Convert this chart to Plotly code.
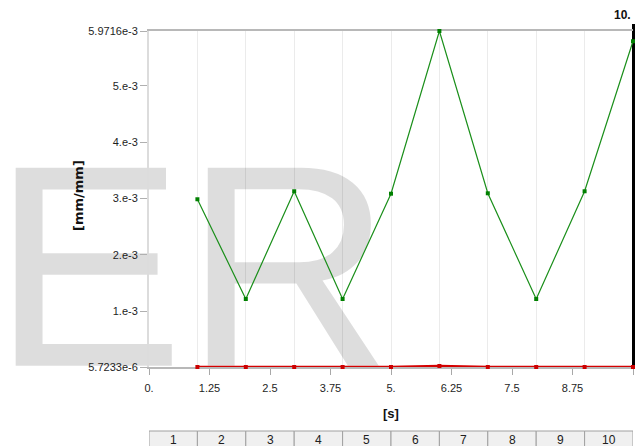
import plotly.graph_objects as go

# Result steps / time points
steps = [1, 2, 3, 4, 5, 6, 7, 8, 9, 10]
time_s = [1.0, 2.0, 3.0, 4.0, 5.0, 6.0, 7.0, 8.0, 9.0, 10.0]

# Strain results [mm/mm]
strain_max = [2.984e-3, 1.213e-3, 3.126e-3, 1.213e-3, 3.083e-3,
              5.9716e-3, 3.090e-3, 1.213e-3, 3.126e-3, 5.790e-3]
strain_min = [5.9e-6, 6.1e-6, 6.0e-6, 6.1e-6, 6.3e-6,
              2.4e-5, 6.3e-6, 6.1e-6, 6.0e-6, 5.7233e-6]

# Axis ticks
x_tickvals = [0, 1.25, 2.5, 3.75, 5, 6.25, 7.5, 8.75, 10]
x_ticktext = ["0.", "1.25", "2.5", "3.75", "5.", "6.25", "7.5", "8.75", "10."]
y_tickvals = [5.7233e-6, 1e-3, 2e-3, 3e-3, 4e-3, 5e-3, 5.9716e-3]
y_ticktext = ["5.7233e-6", "1.e-3", "2.e-3", "3.e-3", "4.e-3", "5.e-3", "5.9716e-3"]

current_time = 10.0
watermark = "ER"

x_lo, x_hi = 0.0, 10.0
y_lo, y_hi = min(strain_min), max(strain_max)
TICK_FONT = dict(family="Liberation Sans", size=11, color="#1e1e1e")

PLOT_W = 636 - 149 - 3

fig = go.Figure()

# Background watermark, drawn first so the curves sit on top of it
fig.add_trace(go.Scatter(
    x=[0.89], y=[1.305e-3], mode="text", text=[watermark],
    textposition="middle center", cliponaxis=False, hoverinfo="skip",
    textfont=dict(family="Liberation Sans", size=288, color="rgba(0,0,0,0.135)"),
    showlegend=False,
))

fig.add_trace(go.Scatter(
    x=time_s, y=strain_max, mode="lines+markers", cliponaxis=False,
    line=dict(color="#1a8f1a", width=1.2),
    marker=dict(symbol="square", size=4, color="#008000"),
    showlegend=False,
))
fig.add_trace(go.Scatter(
    x=time_s, y=strain_min, mode="lines+markers", cliponaxis=False,
    line=dict(color="#d40000", width=2.4),
    marker=dict(symbol="square", size=4, color="#cc0000"),
    showlegend=False,
))

# Current-time marker (paper-referenced so the full stroke width is kept)
t_frac = (current_time - x_lo) / (x_hi - x_lo) + 0.5 / PLOT_W
fig.add_shape(type="line", xref="paper", yref="paper",
              x0=t_frac, x1=t_frac, y0=0, y1=1.0208,
              line=dict(color="black", width=3), layer="below")
fig.add_annotation(x=current_time, xref="x", y=1.0476, yref="paper",
                   text="10.", showarrow=False, xanchor="right", yanchor="middle",
                   font=dict(family="Liberation Sans", size=12, color="#111111",
                             weight="bold"))

# Step table under the chart
for i, s in enumerate(steps):
    fig.add_shape(type="rect", xref="x", yref="paper",
                  x0=time_s[i] - 1, x1=time_s[i], y0=-0.26, y1=-0.1905,
                  line=dict(color="#a0a0a0", width=1), fillcolor="#f0f0f0")
    fig.add_annotation(x=time_s[i] - 0.5, xref="x", y=-0.217, yref="paper",
                       text=str(s), showarrow=False, xanchor="center", yanchor="middle",
                       font=dict(family="Liberation Sans", size=12, color="#202020"))

# Axis titles
fig.add_annotation(x=-0.1446, xref="paper", y=0.509, yref="paper", text="[mm/mm]",
                   textangle=-90, showarrow=False, xanchor="center", yanchor="middle",
                   font=dict(family="DejaVu Sans", size=13, color="#111111", weight="bold"))
fig.add_annotation(x=0.5, xref="paper", y=-0.137, yref="paper", text="[s]",
                   showarrow=False, xanchor="center", yanchor="middle",
                   font=dict(family="Liberation Sans", size=13, color="#111111", weight="bold"))

fig.update_xaxes(
    range=[x_lo, x_hi], tickvals=x_tickvals, ticktext=x_ticktext,
    ticks="outside", ticklen=6, tickcolor="#a8a8a8", tickfont=TICK_FONT,
    ticklabelstandoff=4, layer="below traces",
    showgrid=False, zeroline=False,
    showline=True, linecolor="#b8b8b8", linewidth=2, mirror=True,
    minor=dict(tick0=0, dtick=1, showgrid=True, gridcolor="#ebebeb", gridwidth=1.2, ticks=""),
)
fig.update_yaxes(
    range=[y_lo, y_hi], tickvals=y_tickvals, ticktext=y_ticktext,
    ticks="outside", ticklen=7, tickcolor="#b0b0b0", tickfont=TICK_FONT,
    showgrid=False, zeroline=False,
    showline=True, linecolor="#dcdcdc", linewidth=2,
)

fig.update_layout(
    width=636, height=446,
    margin=dict(l=149, r=3, t=31, b=79, autoexpand=False),
    paper_bgcolor="white", plot_bgcolor="white",
    showlegend=False,
)

fig.write_html("out.html")
